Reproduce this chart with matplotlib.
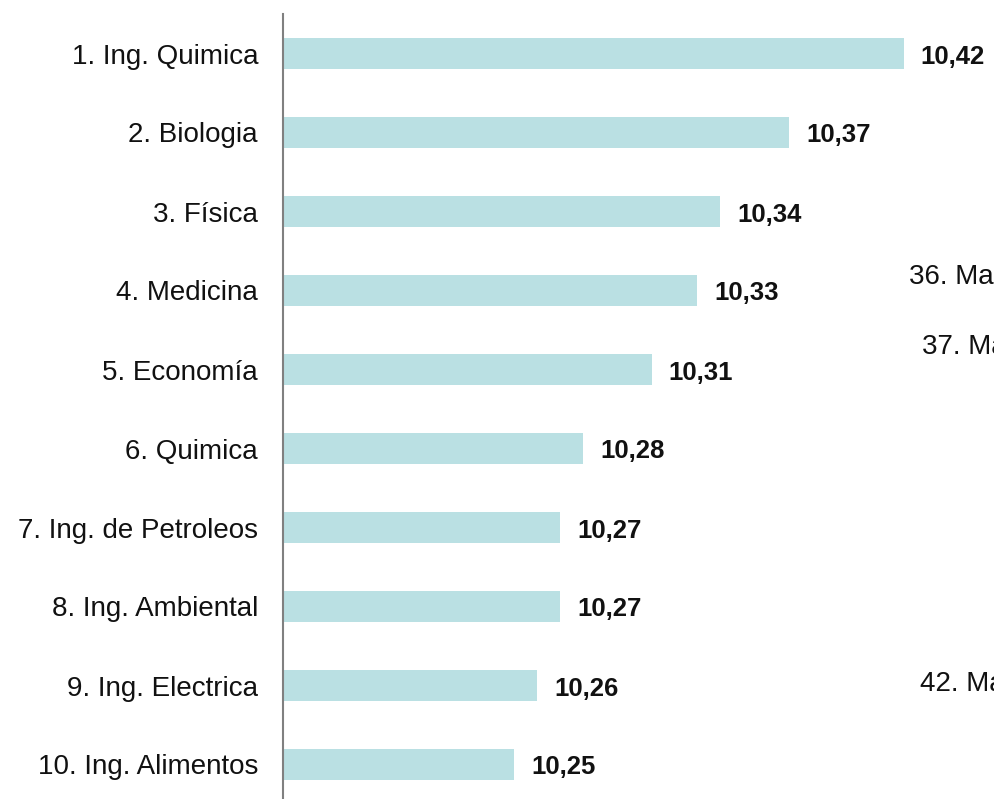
import matplotlib
matplotlib.use("Agg")
import matplotlib.pyplot as plt

plt.rcParams['font.family'] = ['Liberation Sans', 'DejaVu Sans']

categories = [
    "1. Ing. Quimica",
    "2. Biologia",
    "3. Física",
    "4. Medicina",
    "5. Economía",
    "6. Quimica",
    "7. Ing. de Petroleos",
    "8. Ing. Ambiental",
    "9. Ing. Electrica",
    "10. Ing. Alimentos",
]
values = [10.42, 10.37, 10.34, 10.33, 10.31, 10.28, 10.27, 10.27, 10.26, 10.25]

# labels of a neighbouring ranking that run off the right edge
side_labels = ["36. Ma", "37. Ma", "42. Ma"]
side_pos = [(909, 277), (922, 347), (920, 684)]

W, H = 994, 799
fig = plt.figure(figsize=(W / 100, H / 100), dpi=100)
ax_left = 283 / W
ax_top = 1 - 14 / H
ax_h = 790 / H
ax = fig.add_axes([ax_left, ax_top - ax_h, 1 - ax_left, ax_h])

x0 = 10.149
x1 = x0 + (W - 283) / 2290
ypos = list(range(len(categories)))
bars = ax.barh(ypos, [v - x0 for v in values], left=x0, height=0.405,
               color="#BAE0E3", edgecolor="none")

ax.set_xlim(x0, x1)
ax.set_ylim(len(categories) - 0.5, -0.5)
ax.set_yticks(ypos)
ax.set_yticklabels(categories, fontsize=20, color="#111111")
ax.tick_params(axis="y", length=0, pad=18)
ax.set_xticks([])
for s in ["top", "right", "bottom"]:
    ax.spines[s].set_visible(False)
ax.spines["left"].set_color("#808080")
ax.spines["left"].set_linewidth(1.5)

for y, v in zip(ypos, values):
    ax.annotate(f"{v:.2f}".replace(".", ","), xy=(v, y), xytext=(17, -3),
                textcoords="offset pixels", ha="left", va="center",
                fontsize=18.5, fontweight="bold", color="#111111",
                annotation_clip=False)

for t, (px, py) in zip(side_labels, side_pos):
    fig.text(px / W, 1 - py / H, t, fontsize=20, color="#111111",
             ha="left", va="center")

fig.savefig("out.png", dpi=100)
